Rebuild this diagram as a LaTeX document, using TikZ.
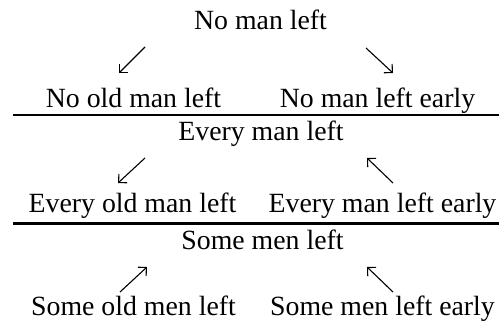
\documentclass[tikz,border=0pt]{standalone}
\usepackage{fontspec}
\setmainfont{Liberation Serif}
\usepackage{tikz}
\usetikzlibrary{arrows.meta,positioning}

\begin{document}
\begin{tikzpicture}[
    x=1pt, y=-1pt,
    sentence/.style={anchor=base, inner sep=0pt, font=\fontsize{27.8pt}{30pt}\selectfont},
    entail/.style={-{Straight Barb[length=6pt,width=12pt]}, line width=1.1pt},
    divider/.style={line width=2.2pt}
]
\useasboundingbox (0,0) rectangle (499,329);

% Block 1: No
\node[sentence] (no) at (260.5,30) {No man left};
\node[sentence] (noold) at (133.5,108) {No old man left};
\node[sentence] (noearly) at (377.5,108) {No man left early};
\coordinate (noA) at (145,47);  \coordinate (noB) at (119,73);
\coordinate (noC) at (366,48);  \coordinate (noD) at (393,73);
\draw[entail] (noA) -- (noB);
\draw[entail] (noC) -- (noD);

% Rule 1
\coordinate (ruleAl) at (13,115); \coordinate (ruleAr) at (499,115);
\draw[divider] (ruleAl) -- (ruleAr);

% Block 2: Every
\node[sentence] (every) at (261,141) {Every man left};
\node[sentence] (everyold) at (132.5,212) {Every old man left};
\node[sentence] (everyearly) at (382.5,212) {Every man left early};
\coordinate (evA) at (145,158);  \coordinate (evB) at (118,183);
\coordinate (evC) at (393,183);  \coordinate (evD) at (367,158);
\draw[entail] (evA) -- (evB);
\draw[entail] (evC) -- (evD);

% Rule 2
\coordinate (ruleBl) at (13,224); \coordinate (ruleBr) at (499,224);
\draw[divider, line width=3pt] (ruleBl) -- (ruleBr);

% Block 3: Some
\node[sentence] (some) at (262.5,250) {Some men left};
\node[sentence] (someold) at (133.5,315) {Some old men left};
\node[sentence] (someearly) at (382.5,315) {Some men left early};
\coordinate (soA) at (120,292);  \coordinate (soB) at (147,267);
\coordinate (soC) at (393,292);  \coordinate (soD) at (367,267);
\draw[entail] (soA) -- (soB);
\draw[entail] (soC) -- (soD);

\end{tikzpicture}
\end{document}
